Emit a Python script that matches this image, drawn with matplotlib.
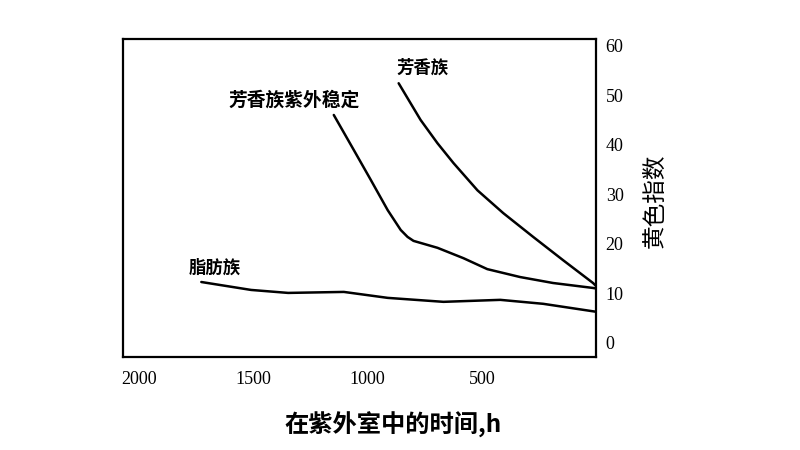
import matplotlib
matplotlib.use("Agg")
import matplotlib.pyplot as plt

plt.rcParams['font.family'] = ['Noto Sans CJK SC', 'DejaVu Sans']

# Data (time in h, yellowness index)
arom_t = [864, 768, 694, 624, 519, 406, 275, 144, 13, 0]
arom_y = [52.4, 45.0, 40.3, 36.3, 30.8, 26.2, 21.4, 16.7, 12.1, 11.5]

uv_t = [1148, 1060, 986, 912, 855, 825, 799, 694, 580, 476, 332, 188, 13, 0]
uv_y = [46.0, 38.9, 32.9, 26.8, 22.8, 21.4, 20.6, 19.2, 17.1, 14.9, 13.3, 12.1, 11.1, 11.0]

ali_t = [1728, 1510, 1348, 1104, 912, 668, 419, 231, 0]
ali_y = [12.3, 10.7, 10.1, 10.3, 9.1, 8.3, 8.7, 7.9, 6.3]

xticks = [500, 1000, 1500, 2000]
yticks = [0, 10, 20, 30, 40, 50, 60]

labels = ["芳香族", "芳香族紫外稳定", "脂肪族"]
label_pos = [(759, 55.6), (1322, 49.0), (1671, 15.1)]

fig = plt.figure(figsize=(8, 4.5), dpi=100)
ax = fig.add_axes([0.154, 0.207, 0.591, 0.706])

for t, y in [(arom_t, arom_y), (uv_t, uv_y), (ali_t, ali_y)]:
    ax.plot(t, y, color='black', lw=1.8, solid_capstyle='round', solid_joinstyle='round')

ax.set_xlim(2070, 0)
ax.set_ylim(-2.8, 61.3)

ax.set_xticks(xticks)
ax.set_xticklabels([str(v) for v in xticks], family='Liberation Serif', fontsize=13)
ax.set_yticks(yticks)
ax.set_yticklabels([str(v) for v in yticks], family='Liberation Serif', fontsize=13)
ax.yaxis.tick_right()
ax.tick_params(axis='both', length=0)
ax.tick_params(axis='x', pad=10)
ax.tick_params(axis='y', pad=7)

for sp in ax.spines.values():
    sp.set_linewidth(1.6)
    sp.set_color('black')

for txt, (x, y), fs in zip(labels, label_pos, [12.5, 13.5, 12.5]):
    ax.text(x, y, txt, ha='center', va='center', fontsize=fs, fontweight='bold')

fig.text(655 / 800, 1 - 201 / 450, "黄色指数", rotation=90, ha='center', va='center', fontsize=17)
fig.text(393 / 800, 1 - 425 / 450, "在紫外室中的时间,h", ha='center', va='center',
         fontsize=17.5, fontweight='bold')

fig.savefig("out.png", dpi=100, facecolor='white')
